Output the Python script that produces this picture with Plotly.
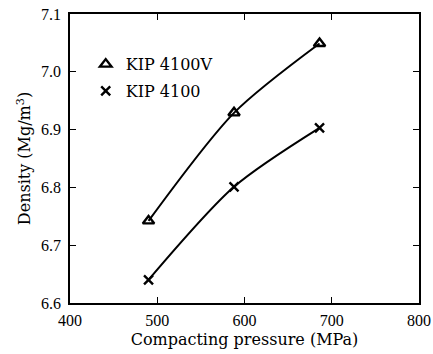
import plotly.graph_objects as go

# Compacting pressure (MPa) and green density (Mg/m^3)
pressure = [490, 588, 686]
density_4100v = [6.742, 6.929, 7.049]
density_4100 = [6.640, 6.801, 6.903]

x_ticks = [400, 500, 600, 700, 800]
y_ticks = [6.6, 6.7, 6.8, 6.9, 7.0, 7.1]
y_tick_text = ["6.6", "6.7", "6.8", "6.9", "7.0", "7.1"]

TICK_FONT = "Liberation Serif, Times New Roman, serif"
TEXT_FONT = "DejaVu Serif, serif"

fig = go.Figure()

series = [
    ("KIP 4100V", density_4100v, "triangle-up-open", 10),
    ("KIP 4100", density_4100, "x-thin-open", 9),
]

for name, dens, symbol, size in series:
    # smooth fitted curve
    fig.add_trace(go.Scatter(
        x=pressure, y=dens, mode="lines",
        line=dict(color="black", width=2, shape="spline", smoothing=0.8),
        showlegend=False, hoverinfo="skip",
    ))
    # measured points
    fig.add_trace(go.Scatter(
        x=pressure, y=dens, mode="markers", name=name, legendgroup=name,
        marker=dict(symbol=symbol, size=size, color="black",
                    line=dict(color="black", width=2.4)),
    ))

axis_common = dict(
    showgrid=False, zeroline=False, automargin=False,
    showline=True, linecolor="black", linewidth=1.5,
    mirror="ticks", ticks="inside", ticklen=6, tickwidth=1.2, tickcolor="black",
    tickfont=dict(family=TICK_FONT, size=16, color="black"),
)

fig.update_xaxes(
    range=[400, 800], tickvals=x_ticks, ticklabelstandoff=2,
    title=dict(text="Compacting pressure (MPa)",
               font=dict(family=TEXT_FONT, size=16, color="black"), standoff=6),
    **axis_common,
)
fig.update_yaxes(
    range=[6.6, 7.1], tickvals=y_ticks, ticktext=y_tick_text, ticklabelstandoff=4,
    title=dict(text="Density (Mg/m<sup>3</sup>)",
               font=dict(family=TEXT_FONT, size=16, color="black"), standoff=6),
    **axis_common,
)

fig.update_layout(
    width=433, height=354,
    margin=dict(l=70, r=14, t=14, b=51),
    paper_bgcolor="white", plot_bgcolor="white",
    legend=dict(
        x=0.045, y=0.885, xanchor="left", yanchor="top",
        bgcolor="rgba(0,0,0,0)", itemwidth=30, tracegroupgap=3,
        font=dict(family=TEXT_FONT, size=16, color="black"),
    ),
)

fig.write_html("out.html")
